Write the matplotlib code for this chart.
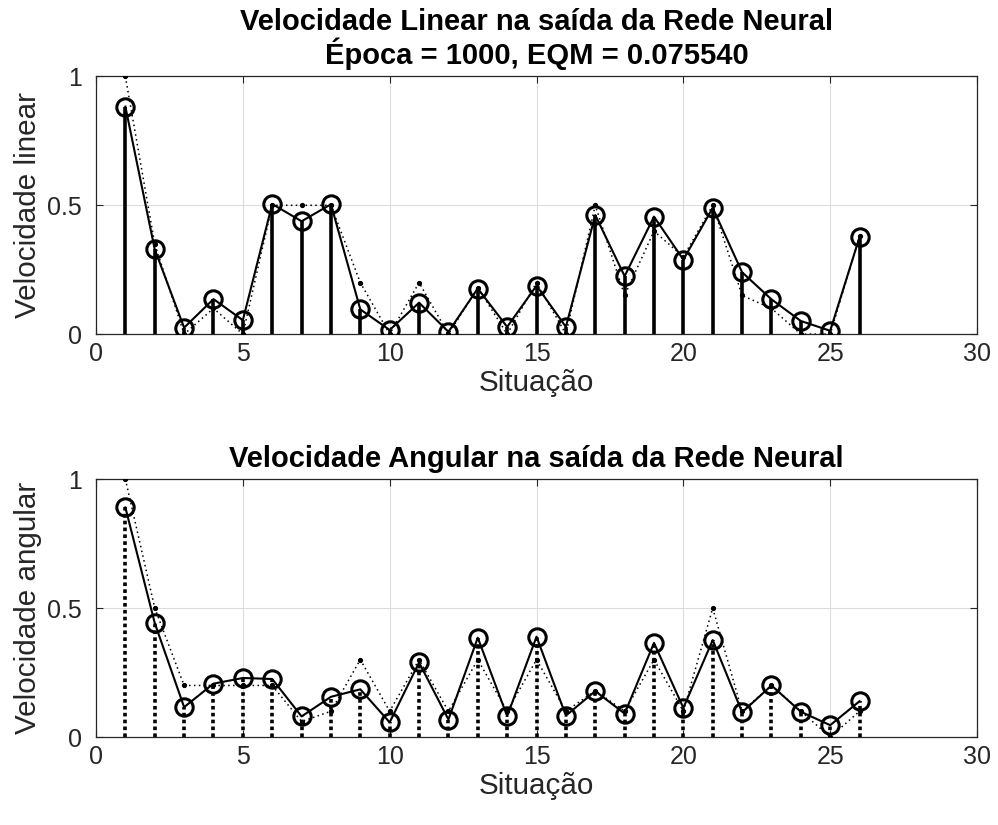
import numpy as np
import matplotlib
matplotlib.use('Agg')
import matplotlib.pyplot as plt

plt.rcParams['font.family'] = ['Liberation Sans', 'DejaVu Sans']

# Situações 1..26
situacao = list(range(1, 27))

# Velocidade linear: alvo (pontilhado) e saída da rede (círculos)
lin_alvo = [1.0, 0.35, 0.0, 0.10, 0.0, 0.5, 0.5, 0.5, 0.2, 0.0, 0.2, 0.0, 0.18,
            0.0, 0.2, 0.0, 0.5, 0.15, 0.4, 0.3, 0.5, 0.15, 0.1, 0.0, 0.0, 0.38]
lin_saida = [0.883, 0.329, 0.025, 0.136, 0.054, 0.505, 0.438, 0.504, 0.096, 0.016,
             0.122, 0.009, 0.177, 0.028, 0.188, 0.028, 0.462, 0.225, 0.456, 0.289,
             0.490, 0.240, 0.135, 0.051, 0.013, 0.377]

# Velocidade angular
ang_alvo = [1.0, 0.5, 0.2, 0.2, 0.2, 0.2, 0.06, 0.1, 0.3, 0.1, 0.3, 0.1, 0.3,
            0.1, 0.3, 0.1, 0.18, 0.1, 0.3, 0.1, 0.5, 0.1, 0.2, 0.1, 0.0, 0.1]
ang_saida = [0.890, 0.442, 0.116, 0.207, 0.229, 0.225, 0.080, 0.156, 0.185, 0.057,
             0.289, 0.068, 0.385, 0.081, 0.389, 0.083, 0.178, 0.091, 0.365, 0.113,
             0.376, 0.096, 0.200, 0.098, 0.046, 0.139]

epoca = 1000
eqm = 0.075540

TXT = '#262626'


def painel(ax, alvo, saida, stem_ls, titulo, ylabel):
    x = np.array(situacao)
    ax.vlines(x, 0, saida, colors='k', linewidth=2.6, linestyles=stem_ls,
              capstyle='butt', zorder=2)
    ax.plot(x, alvo, color='k', linestyle=(0, (1, 2.2)), linewidth=1.1,
            marker='.', markersize=5.5, zorder=3)
    ax.plot(x, saida, color='k', linestyle='-', linewidth=1.5, marker='o',
            markersize=12.5, markerfacecolor='none', markeredgewidth=2.2, zorder=4)
    ax.set_xlim(0, 30)
    ax.set_ylim(0, 1)
    ax.set_xticks([0, 5, 10, 15, 20, 25, 30])
    ax.set_yticks([0, 0.5, 1])
    ax.set_yticklabels(['0', '0.5', '1'])
    ax.grid(True, color='#dcdcdc', linewidth=0.8)
    ax.set_axisbelow(True)
    ax.tick_params(direction='in', top=True, right=True, length=5,
                   labelsize=18, colors=TXT)
    ax.tick_params(axis='x', pad=6)
    ax.tick_params(axis='y', pad=10)
    for s in ax.spines.values():
        s.set_color(TXT)
        s.set_linewidth(0.9)
    ax.set_xlabel('Situação', fontsize=21.3, color=TXT, labelpad=2)
    ax.set_ylabel(ylabel, fontsize=21.3, color=TXT, labelpad=4)
    ax.set_title(titulo, fontsize=21, fontweight='bold', color='k', pad=9,
                 linespacing=1.05)


fig = plt.figure(figsize=(9.98, 8.25), dpi=100)
ax1 = fig.add_axes([0.0962, 0.5950, 0.8828, 0.3123])
ax2 = fig.add_axes([0.0962, 0.1066, 0.8828, 0.3127])

painel(ax1, lin_alvo, lin_saida, 'solid',
       'Velocidade Linear na saída da Rede Neural\n'
       f'Época = {epoca}, EQM = {eqm:.6f}', 'Velocidade linear')
painel(ax2, ang_alvo, ang_saida, (0, (1, 0.9)),
       'Velocidade Angular na saída da Rede Neural', 'Velocidade angular')

fig.savefig('out.png', dpi=100)
